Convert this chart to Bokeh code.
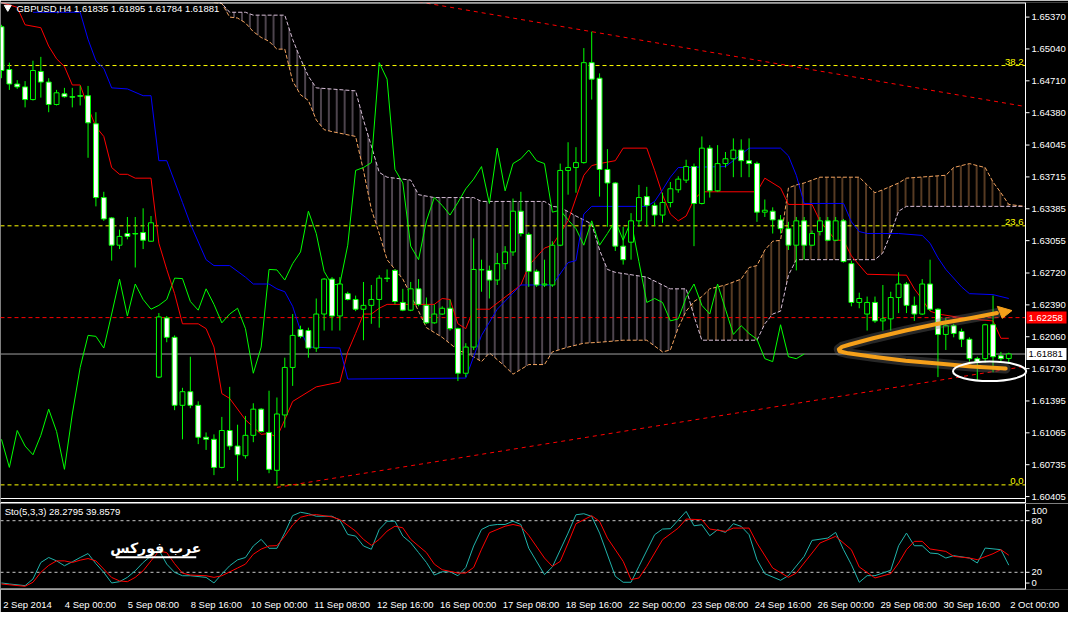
import numpy as np
from bokeh.plotting import figure
from bokeh.layouts import column
from bokeh.models import Range1d, FixedTicker, LinearAxis, ColumnDataSource
from bokeh.embed import file_html
from bokeh.resources import INLINE
from bokeh.core.properties import value

# ---------------- data ----------------
symbol, timeframe = "GBPUSD", "H4"

opens = [1.65270, 1.64827, 1.64677, 1.64647, 1.64516, 1.64807, 1.64697, 1.64465, 1.64576, 1.64546,
         1.64556, 1.64556, 1.64265, 1.63501, 1.63290, 1.63008, 1.63129, 1.63129, 1.63139, 1.63049,
         1.61642, 1.62255, 1.62054, 1.61350, 1.61491, 1.61350, 1.61019, 1.60998, 1.60707, 1.61089,
         1.60928, 1.60828, 1.61039, 1.61310, 1.61069, 1.60677, 1.61250, 1.61742, 1.62134, 1.62124,
         1.61943, 1.62295, 1.62657, 1.62275, 1.62506, 1.62446, 1.62345, 1.62385, 1.62446, 1.62667,
         1.62747, 1.62415, 1.62335, 1.62556, 1.62385, 1.62204, 1.62295, 1.62355, 1.62144, 1.61682,
         1.61953, 1.62757, 1.62747, 1.62647, 1.62817, 1.62938, 1.63360, 1.63119, 1.62737, 1.62596,
         1.62596, 1.63008, 1.63782, 1.63812, 1.63863, 1.64898, 1.64737, 1.63792, 1.63652, 1.62998,
         1.63039, 1.63260, 1.63511, 1.63420, 1.63320, 1.63450, 1.63582, 1.63682, 1.63822, 1.63440,
         1.64013, 1.63571, 1.63853, 1.63903, 1.63993, 1.63883, 1.63853, 1.63350, 1.63360, 1.63270,
         1.63179, 1.63008, 1.63260, 1.63008, 1.63149, 1.63260, 1.63059, 1.63260, 1.62817, 1.62415,
         1.62295, 1.62415, 1.62224, 1.62245, 1.62466, 1.62606, 1.62385, 1.62295, 1.62606, 1.62345,
         1.62084, 1.62174, 1.62114, 1.62034, 1.61833, 1.61833, 1.62184, 1.61863, 1.61835]
highs = [1.65290, 1.64898, 1.64717, 1.64707, 1.64918, 1.64958, 1.64737, 1.64616, 1.64637, 1.64637,
         1.64657, 1.64657, 1.64385, 1.63561, 1.63300, 1.63169, 1.63300, 1.63300, 1.63390, 1.63310,
         1.62305, 1.62275, 1.62074, 1.61531, 1.61853, 1.61391, 1.61069, 1.61049, 1.61230, 1.61541,
         1.61149, 1.61240, 1.61371, 1.61320, 1.61501, 1.61431, 1.61843, 1.62295, 1.62174, 1.62154,
         1.62456, 1.62667, 1.62677, 1.62677, 1.62526, 1.62486, 1.62627, 1.62596, 1.62697, 1.62757,
         1.62757, 1.62556, 1.62627, 1.62657, 1.62466, 1.62395, 1.62375, 1.62446, 1.62154, 1.61993,
         1.63079, 1.62858, 1.62797, 1.62928, 1.62998, 1.63491, 1.63561, 1.63139, 1.62757, 1.62858,
         1.63049, 1.63853, 1.64074, 1.64023, 1.65049, 1.65219, 1.64787, 1.64003, 1.63662, 1.63199,
         1.63340, 1.63632, 1.63612, 1.63450, 1.63551, 1.63662, 1.63722, 1.63893, 1.63853, 1.64134,
         1.64044, 1.64044, 1.63973, 1.64114, 1.64104, 1.64114, 1.63873, 1.63481, 1.63400, 1.63320,
         1.63250, 1.63300, 1.63300, 1.63159, 1.63300, 1.63300, 1.63300, 1.63280, 1.62848, 1.62516,
         1.62476, 1.62476, 1.62596, 1.62526, 1.62727, 1.62627, 1.62476, 1.62657, 1.62858, 1.62355,
         1.62255, 1.62194, 1.62144, 1.62054, 1.61853, 1.62194, 1.62486, 1.61903, 1.61895]
lows = [1.64737, 1.64616, 1.64626, 1.64435, 1.64506, 1.64536, 1.64385, 1.64455, 1.64536, 1.64435,
        1.64455, 1.63913, 1.63410, 1.63260, 1.62848, 1.62968, 1.63069, 1.62777, 1.62968, 1.63044,
        1.61632, 1.62003, 1.61300, 1.60998, 1.61320, 1.60948, 1.60888, 1.60627, 1.60697, 1.60888,
        1.60566, 1.60798, 1.60968, 1.61069, 1.60647, 1.60526, 1.61119, 1.61551, 1.62044, 1.61843,
        1.61903, 1.62124, 1.62124, 1.62124, 1.62436, 1.62325, 1.62024, 1.62194, 1.62154, 1.62627,
        1.62395, 1.62325, 1.62325, 1.62375, 1.62194, 1.62194, 1.62285, 1.62124, 1.61601, 1.61642,
        1.61923, 1.62526, 1.62456, 1.62596, 1.62757, 1.62898, 1.63099, 1.62576, 1.62576, 1.62576,
        1.62576, 1.62998, 1.63531, 1.63551, 1.63853, 1.64516, 1.63511, 1.63199, 1.62948, 1.62807,
        1.62858, 1.63199, 1.63199, 1.63209, 1.63240, 1.63400, 1.63551, 1.63652, 1.62998, 1.63430,
        1.63501, 1.63561, 1.63812, 1.63712, 1.63712, 1.63712, 1.63250, 1.63300, 1.63129, 1.63129,
        1.62958, 1.62747, 1.62858, 1.62998, 1.63109, 1.63049, 1.63049, 1.62828, 1.62375, 1.62355,
        1.62124, 1.62204, 1.62124, 1.62124, 1.62305, 1.62305, 1.62224, 1.62285, 1.62325, 1.61642,
        1.61923, 1.62054, 1.61953, 1.61802, 1.61601, 1.61792, 1.61692, 1.61802, 1.61784]
closes = [1.64817, 1.64677, 1.64647, 1.64516, 1.64817, 1.64697, 1.64465, 1.64586, 1.64546, 1.64541,
          1.64551, 1.64275, 1.63501, 1.63280, 1.63008, 1.63099, 1.63099, 1.63124, 1.63059, 1.63240,
          1.62265, 1.62054, 1.61350, 1.61491, 1.61350, 1.61019, 1.60998, 1.60707, 1.61089, 1.60928,
          1.60838, 1.61039, 1.61310, 1.61079, 1.60687, 1.61260, 1.61742, 1.62074, 1.62064, 1.61943,
          1.62295, 1.62657, 1.62275, 1.62606, 1.62446, 1.62345, 1.62385, 1.62446, 1.62667, 1.62662,
          1.62425, 1.62335, 1.62556, 1.62395, 1.62204, 1.62295, 1.62355, 1.62144, 1.61682, 1.61953,
          1.62757, 1.62752, 1.62647, 1.62817, 1.62938, 1.63360, 1.63129, 1.62737, 1.62596, 1.62606,
          1.63008, 1.63782, 1.63812, 1.63863, 1.64898, 1.64727, 1.63792, 1.63652, 1.62998, 1.62858,
          1.63260, 1.63501, 1.63420, 1.63320, 1.63450, 1.63592, 1.63692, 1.63822, 1.63440, 1.64013,
          1.63571, 1.63853, 1.63903, 1.63993, 1.63883, 1.63853, 1.63350, 1.63370, 1.63270, 1.63179,
          1.63008, 1.63260, 1.63008, 1.63129, 1.63260, 1.63059, 1.63260, 1.62838, 1.62415, 1.62456,
          1.62415, 1.62224, 1.62245, 1.62466, 1.62606, 1.62385, 1.62295, 1.62606, 1.62345, 1.62084,
          1.62174, 1.62094, 1.62034, 1.61833, 1.61802, 1.62184, 1.61853, 1.61833, 1.61881]

date_ticks = [0, 8, 16, 24, 32, 40, 48, 56, 64, 72, 80, 88, 96, 104, 112, 120, 128]
date_labels = ["2 Sep 2014", "4 Sep 00:00", "5 Sep 08:00", "8 Sep 16:00", "10 Sep 00:00",
               "11 Sep 08:00", "12 Sep 16:00", "16 Sep 00:00", "17 Sep 08:00", "18 Sep 16:00",
               "22 Sep 00:00", "23 Sep 08:00", "24 Sep 16:00", "26 Sep 00:00", "29 Sep 08:00",
               "30 Sep 16:00", "2 Oct 00:00"]
price_ticks = [1.65370, 1.65040, 1.64710, 1.64380, 1.64045, 1.63715, 1.63385, 1.63055,
               1.62720, 1.62390, 1.62060, 1.61730, 1.61395, 1.61065, 1.60735, 1.60405]

# Ichimoku (vertices)
tenkan_bar = [0, 2, 3, 5, 6, 7, 8, 9, 10, 11, 12, 13, 14, 15, 16, 17, 19, 20, 21, 22,
              23, 25, 26, 27, 28, 29, 31, 33, 34, 35, 36, 37, 40, 43, 44, 45, 46, 47, 48, 49,
              55, 56, 57, 58, 59, 60, 62, 66, 67, 69, 70, 72, 74, 75, 76, 78, 79, 82, 83, 84,
              85, 86, 87, 88, 89, 96, 97, 99, 100, 103, 104, 106, 107, 108, 110, 115, 116, 117, 118, 119,
              123, 126, 127, 128]
tenkan_val = [1.65521, 1.65471, 1.65290, 1.65260, 1.65069, 1.64938, 1.64858, 1.64667, 1.64667, 1.64435,
              1.64234, 1.64134, 1.63812, 1.63742, 1.63742, 1.63702, 1.63702, 1.63028, 1.62757, 1.62506,
              1.62194, 1.62194, 1.62144, 1.61953, 1.61471, 1.61421, 1.61200, 1.61049, 1.61059, 1.61019,
              1.61200, 1.61390, 1.61541, 1.61591, 1.61903, 1.62094, 1.62295, 1.62295, 1.62355, 1.62395,
              1.62395, 1.62456, 1.62446, 1.62194, 1.62144, 1.62345, 1.62345, 1.62596, 1.62797, 1.62978,
              1.63008, 1.63260, 1.63732, 1.63832, 1.63853, 1.63883, 1.64013, 1.64013, 1.63782, 1.63531,
              1.63330, 1.63260, 1.63310, 1.63481, 1.63561, 1.63561, 1.63702, 1.63601, 1.63430, 1.63430,
              1.63260, 1.63059, 1.63059, 1.62898, 1.62707, 1.62697, 1.62556, 1.62446, 1.62325, 1.62295,
              1.62245, 1.62224, 1.62044, 1.62044]
kijun_bar = [4, 10, 11, 12, 13, 14, 16, 18, 19, 20, 21, 23, 24, 26, 27, 29, 31, 32, 34, 35,
             36, 37, 38, 39, 43, 44, 59, 60, 61, 63, 66, 70, 72, 73, 74, 75, 82, 83, 84, 85,
             86, 92, 93, 95, 99, 100, 101, 102, 107, 108, 109, 110, 114, 117, 118, 119, 120, 122, 123, 126,
             128]
kijun_val = [1.65420, 1.65420, 1.65139, 1.64918, 1.64838, 1.64637, 1.64626, 1.64556, 1.64556, 1.63883,
             1.63883, 1.63450, 1.63229, 1.62858, 1.62797, 1.62797, 1.62677, 1.62606, 1.62606, 1.62556,
             1.62526, 1.62375, 1.62124, 1.61953, 1.61943, 1.61622, 1.61632, 1.61853, 1.62074, 1.62345,
             1.62596, 1.62596, 1.62828, 1.62848, 1.63330, 1.63410, 1.63410, 1.63461, 1.63582, 1.63712,
             1.63812, 1.63822, 1.63883, 1.64013, 1.64013, 1.63933, 1.63732, 1.63440, 1.63440, 1.63250,
             1.63149, 1.63129, 1.63129, 1.63109, 1.63028, 1.62878, 1.62757, 1.62576, 1.62506, 1.62496,
             1.62456]
spanA_bar = [27, 28, 29, 30, 31, 32, 33, 34, 35, 36, 37, 38, 39, 40, 41, 42, 45, 46, 47, 48,
             49, 51, 53, 54, 56, 58, 60, 61, 62, 64, 65, 67, 69, 70, 72, 74, 76, 79, 82, 84,
             85, 86, 87, 88, 89, 90, 92, 94, 95, 96, 97, 98, 99, 100, 101, 102, 104, 109, 110, 111,
             112, 114, 115, 120, 121, 123, 124, 125, 126, 127, 128, 130]
spanA_val = [1.65521, 1.65511, 1.65370, 1.65360, 1.65310, 1.65219, 1.65159, 1.65119, 1.65038, 1.65038,
             1.64707, 1.64566, 1.64506, 1.64305, 1.64204, 1.64184, 1.64134, 1.63782, 1.63380, 1.63129,
             1.62858, 1.62657, 1.62325, 1.62154, 1.62054, 1.61923, 1.61853, 1.61802, 1.61893, 1.61752,
             1.61672, 1.61772, 1.61772, 1.61903, 1.61953, 1.61993, 1.62003, 1.62024, 1.62024, 1.61903,
             1.61923, 1.62154, 1.62325, 1.62425, 1.62476, 1.62556, 1.62596, 1.62657, 1.62777, 1.62797,
             1.62958, 1.63049, 1.63059, 1.63601, 1.63632, 1.63652, 1.63712, 1.63712, 1.63632, 1.63551,
             1.63582, 1.63652, 1.63702, 1.63732, 1.63812, 1.63853, 1.63832, 1.63812, 1.63662, 1.63551,
             1.63430, 1.63410]
spanB_bar = [27, 28, 29, 31, 32, 36, 37, 38, 39, 40, 45, 46, 47, 48, 49, 52, 53, 55, 60, 61,
             69, 70, 71, 73, 75, 76, 77, 78, 82, 85, 87, 88, 89, 96, 97, 98, 99, 100, 101, 111,
             112, 113, 114, 115, 130]
spanB_val = [1.65571, 1.65511, 1.65420, 1.65420, 1.65390, 1.65390, 1.65139, 1.64938, 1.64757, 1.64637,
             1.64606, 1.64305, 1.64034, 1.63762, 1.63712, 1.63682, 1.63531, 1.63501, 1.63501, 1.63461,
             1.63461, 1.63410, 1.63400, 1.63310, 1.63229, 1.62958, 1.62757, 1.62727, 1.62677, 1.62556,
             1.62556, 1.62275, 1.62024, 1.62024, 1.62194, 1.62295, 1.62325, 1.62697, 1.62858, 1.62858,
             1.62928, 1.63129, 1.63360, 1.63410, 1.63410]
kumo_twist = (87.61, 1.62386)
chikou_shift = 26

# Fibonacci retracement (high 100%, low 0%) and levels shown
fib_high, fib_low = 1.71893, 1.60526
fib_levels = [0.0, 23.6, 38.2]
level_line = 1.62258
trend_upper = ([75, 130], [1.65219, 1.64445])
trend_lower = ([35, 130], [1.60500, 1.61752])

# Stochastic (5,3,3)
k_bar = [0, 1, 3, 4, 5, 6, 7, 8, 9, 10, 11, 12, 13, 14, 15, 16, 17, 18, 19, 20,
         21, 22, 23, 24, 26, 27, 28, 29, 30, 31, 32, 33, 34, 35, 36, 37, 38, 39, 40, 42,
         43, 44, 45, 46, 47, 48, 49, 50, 51, 52, 53, 54, 55, 56, 57, 58, 59, 60, 61, 62,
         63, 64, 65, 66, 67, 69, 70, 72, 73, 74, 75, 76, 78, 79, 80, 81, 83, 84, 85, 87,
         88, 89, 90, 91, 92, 93, 94, 95, 96, 97, 99, 100, 102, 103, 105, 106, 107, 108, 109, 110,
         111, 113, 114, 115, 116, 117, 118, 119, 120, 121, 123, 124, 125, 127, 128]
k_val = [7.6, 6.4, 4.5, 12.2, 31.4, 37.2, 33.3, 27.6, 32.2, 37.2, 41.8, 30, 19.9, 7.6, 9.1, 14.1, 21.8, 31.4, 39.1, 46,
         29.5, 19.9, 16, 16, 14.1, 7.6, 18, 27.6, 34.5, 37.2, 50.6, 58.3, 47.9, 47.9, 66, 85.9, 89.8, 88.2, 85.2, 85.2,
         80.6, 64, 62.1, 50.6, 46.8, 69.8, 79.4, 79.4, 62.1, 54.4, 42.9, 31.4, 16.8, 20.6, 20.6, 16, 25.6, 50.6, 69.8, 74.4,
         75.6, 75.6, 79.4, 75.6, 48, 17.3, 26.2, 65.6, 86.9, 88.1, 85, 65.6, 15.3, 8.4, 8.4, 26.9, 63.7, 70.3, 70.7, 90.8,
         74.1, 75.3, 62.5, 69.5, 66.4, 76.5, 73.4, 63.7, 34.7, 18.4, 10.7, 16.1, 38.5, 57.1, 59.8, 66.4, 46.3, 28.9, 8.4, 16.1,
         16.1, 22.3, 50.9, 65.6, 50.9, 50.9, 42.4, 41.6, 36.6, 39.3, 36.6, 30.8, 48.2, 46.3, 28.2795]
d_bar = [0, 3, 4, 5, 6, 7, 8, 9, 10, 11, 12, 13, 14, 15, 16, 17, 18, 19, 20, 21,
         22, 23, 24, 26, 27, 28, 30, 31, 32, 33, 34, 35, 36, 37, 38, 39, 40, 42, 43, 45,
         46, 47, 48, 49, 50, 51, 52, 54, 55, 56, 58, 59, 60, 61, 62, 64, 65, 66, 67, 69,
         70, 71, 72, 73, 75, 76, 77, 79, 80, 81, 82, 84, 86, 87, 89, 90, 92, 93, 95, 96,
         98, 100, 101, 103, 104, 106, 108, 109, 111, 113, 114, 115, 116, 117, 118, 120, 121, 123, 124, 126,
         127, 128]
d_val = [6.4, 3.7, 8.4, 20, 28, 33.3, 33.3, 31.4, 34.1, 36, 33.3, 23.7, 14, 10, 9.1, 14.1, 21.8, 33.3, 44.8, 42.9,
         30, 19, 16.8, 16, 14.1, 16, 25, 29.5, 41, 47, 50.6, 51, 62, 75, 84, 86.3, 87.1, 84.4, 81.3, 67.9,
         58.3, 51.4, 58.3, 67.9, 73.6, 71.7, 58.3, 42.9, 29.5, 23, 19.1, 19.1, 25.6, 46.8, 66, 73.6, 75.6, 73.6, 63, 36.6,
         26.9, 32.7, 54, 76.5, 85.8, 79.2, 59.8, 32.7, 11.5, 13.4, 26.9, 57.9, 71.4, 81.9, 81.1, 70.3, 67.6, 71.4, 71.4, 54,
         25, 14.2, 19.2, 42.4, 54, 61.8, 46.3, 26.2, 13.4, 18.4, 30.8, 46.3, 56, 56, 47.1, 44.3, 38.5, 36.6, 34.7, 41.6,
         46.3, 39.8579]
sto_levels = [20, 80]
sto_axis_ticks = [91.6, 80, 20, 7.5]          # where the scale labels sit in the panel
sto_axis_labels = ["100", "80", "20", "0"]

# hand-drawn annotations on the chart
arrow_bar = [127.6, 123.25, 119.0, 114.9, 110.75, 107.6, 106.5, 106.4, 106.8, 107.8, 110.75, 114.9, 119.0, 123.25, 126.5]
arrow_px = [1.61732, 1.61752, 1.61782, 1.61812, 1.61853, 1.61888, 1.61910, 1.61930, 1.61955, 1.61980,
            1.62044, 1.62124, 1.62194, 1.62255, 1.62305]
arrow_head_bar = [126.54, 127.17, 128.41]
arrow_head_px = [1.62375, 1.62251, 1.62331]
circle_center = (125.56, 1.61702)
circle_size = (9.3, 0.00201)
arabic_caption = "عرب فوركس"

# ---------------- layout constants ----------------
FONT = "Liberation Sans"
FS = "9.5px"
BG = "black"
X0, X1 = -0.125, 130.125          # bar range of the price area
FW_PLOT, AXW = 1025, 43            # px of price area / price-scale column
XR = X1 + AXW * (X1 - X0) / FW_PLOT
PXB = (X1 - X0) / FW_PLOT          # bars per pixel
Y_TOP, Y_BOT = 1.65521, 1.60385
MAIN_H = 496
PPP = (Y_TOP - Y_BOT) / MAIN_H     # price per pixel
Y_EXT = Y_BOT - 5 * PPP


def base_fig(fh, xr, yr, **kw):
    f = figure(frame_width=FW_PLOT + AXW, frame_height=fh, x_range=xr, y_range=yr,
               x_axis_location=None, y_axis_location=None, toolbar_location=None,
               output_backend="svg", min_border=0, background_fill_color=BG,
               border_fill_color=BG, outline_line_color=None, **kw)
    f.grid.visible = False
    return f


def price_scale(f, ticks, labels, y0, y1):
    n = len(ticks)
    f.segment(x0=[X1], y0=[y0], x1=[X1], y1=[y1], line_color="white", line_width=1)
    f.segment(x0=[X1] * n, y0=ticks, x1=[X1 + 4 * PXB] * n, y1=ticks, line_color="white", line_width=1)
    f.text(x=[X1 + 6 * PXB] * n, y=ticks, text=labels, text_color="white",
           text_font=value(FONT), text_font_size=FS, text_baseline="middle")


main = base_fig(MAIN_H + 5, Range1d(X0, XR), Range1d(Y_EXT, Y_TOP), min_border_top=2)

# Kumo hatching (vertical strokes between the two spans)
tb, tp = kumo_twist
left_x = [b for b in spanA_bar if b < tb] + [tb] + [b for b in reversed(spanB_bar) if b < tb]
left_y = ([v for b, v in zip(spanA_bar, spanA_val) if b < tb] + [tp] +
          [v for b, v in zip(reversed(spanB_bar), reversed(spanB_val)) if b < tb])
right_x = [tb] + [b for b in spanA_bar if b > tb] + [b for b in reversed(spanB_bar) if b > tb]
right_y = ([tp] + [v for b, v in zip(spanA_bar, spanA_val) if b > tb] +
           [v for b, v in zip(reversed(spanB_bar), reversed(spanB_val)) if b > tb])
main.patch(left_x, left_y, fill_color=None, line_color=None, hatch_pattern="|",
           hatch_color="#D8BFD8", hatch_alpha=0.7, hatch_scale=7.9, hatch_weight=1)
main.patch(right_x, right_y, fill_color=None, line_color=None, hatch_pattern="|",
           hatch_color="#F4A460", hatch_alpha=0.7, hatch_scale=7.9, hatch_weight=1)
main.line(spanA_bar, spanA_val, line_color="#F4A460", line_dash="4 2", line_width=1)
main.line(spanB_bar, spanB_val, line_color="#D8BFD8", line_dash="4 2", line_width=1)

# Fibonacci levels
for lv in fib_levels:
    price = fib_low + (fib_high - fib_low) * lv / 100.0
    main.segment(x0=[X0], y0=[price], x1=[X1], y1=[price], line_color="yellow",
                 line_dash="4 3", line_width=1)
    main.text(x=[X1 - 2 * PXB], y=[price], text=["%.1f" % lv], text_color="yellow",
              text_font=value(FONT), text_font_size=FS, text_align="right",
              text_baseline="bottom", y_offset=-1)

main.segment(x0=[X0], y0=[level_line], x1=[X1], y1=[level_line], line_color="red",
             line_dash="4 3", line_width=1)
main.segment(x0=[X0], y0=[closes[-1]], x1=[X1], y1=[closes[-1]], line_color="#a0a0a0", line_width=1)

# trend lines
ux, uy = trend_upper
slope_u = (uy[1] - uy[0]) / (ux[1] - ux[0])
main.line([50, X1], [uy[0] + slope_u * (50 - ux[0]), uy[0] + slope_u * (X1 - ux[0])],
          line_color="red", line_dash="4 4", line_width=1)
lx, ly = trend_lower
slope_l = (ly[1] - ly[0]) / (lx[1] - lx[0])
main.line([lx[0], X1], [ly[0], ly[0] + slope_l * (X1 - lx[0])],
          line_color="red", line_dash="4 4", line_width=1)

# Chikou (close shifted back 26 bars), Tenkan, Kijun
bars = np.arange(len(closes))
main.line(bars[chikou_shift:] - chikou_shift, closes[chikou_shift:], line_color="lime", line_width=1)
main.line(tenkan_bar, tenkan_val, line_color="red", line_width=1)
main.line(kijun_bar, kijun_val, line_color="blue", line_width=1)

# candles
o = np.array(opens)
c = np.array(closes)
src = ColumnDataSource(dict(x=bars, top=np.maximum(o, c), bottom=np.minimum(o, c),
                            high=highs, low=lows,
                            fill=["black" if cc >= oo else "white" for oo, cc in zip(opens, closes)]))
main.segment(x0="x", y0="low", x1="x", y1="high", source=src, line_color="lime", line_width=1)
main.vbar(x="x", top="top", bottom="bottom", width=0.62, fill_color="fill",
          line_color="lime", line_width=1, source=src)

# annotations: arrow and ellipse
main.line(arrow_bar, arrow_px, line_color="#707070", line_alpha=0.35, line_width=10,
          line_cap="round", line_join="round")
main.line(arrow_bar, arrow_px, line_color="#F5A01A", line_width=4, line_cap="round", line_join="round")
main.patch(arrow_head_bar, arrow_head_px, fill_color="#F5A01A", line_color="#F5A01A", line_width=1)
main.ellipse(x=[circle_center[0]], y=[circle_center[1]], width=[circle_size[0]],
             height=[circle_size[1]], fill_color=None, line_color="white", line_width=2)

# panel borders (top line, double separator line)
main.segment(x0=[X0] * 3, y0=[Y_TOP, Y_BOT, Y_BOT - 4 * PPP], x1=[X1] * 3,
             y1=[Y_TOP, Y_BOT, Y_BOT - 4 * PPP], line_color="white", line_width=[2, 1, 1])

# title
main.scatter(x=[0.8], y=[1.65471], marker="inverted_triangle", size=7, color="white")
title = "%s,%s  %.5f %.5f %.5f %.5f" % (symbol, timeframe, opens[-1], highs[-1], lows[-1], closes[-1])
main.text(x=[1.9], y=[1.65461], text=[title], text_color="white", text_font=value(FONT),
          text_font_size=FS, text_baseline="middle")

# price scale and the price boxes on it
price_scale(main, price_ticks, ["%.5f" % t for t in price_ticks], Y_EXT, Y_TOP)
main.rect(x=[X1 + 21 * PXB] * 2, y=[level_line, closes[-1]], width=40, height=12,
          width_units="screen", height_units="screen", fill_color=["red", "white"], line_color=None)
main.text(x=[X1 + 3 * PXB] * 2, y=[level_line, closes[-1]],
          text=["%.5f" % level_line, "%.5f" % closes[-1]], text_color=["white", "black"],
          text_font=value(FONT), text_font_size=FS, text_baseline="middle")

# ---------------- stochastic panel ----------------
sto = base_fig(86, main.x_range, Range1d(0, 100))
off = 3.3
sto.extra_x_ranges = {"dates": Range1d(X0 - off, XR - off)}
dax = LinearAxis(x_range_name="dates", ticker=FixedTicker(ticks=date_ticks),
                 major_label_overrides={t: l for t, l in zip(date_ticks, date_labels)})
dax.axis_line_color = None
dax.major_tick_line_color = None
dax.minor_tick_line_color = None
dax.major_label_standoff = 3
dax.major_label_text_color = "white"
dax.major_label_text_font = FONT
dax.major_label_text_font_size = FS
sto.add_layout(dax, "below")

for lv in sto_levels:
    sto.segment(x0=[X0], y0=[lv], x1=[X1], y1=[lv], line_color="#c8c8c8",
                line_dash="3 3", line_width=1)
sto.line(k_bar, k_val, line_color="#20B2AA", line_width=1)
sto.line(d_bar, d_val, line_color="red", line_width=1)
sto.segment(x0=[X0], y0=[0], x1=[X1], y1=[0], line_color="white", line_width=2)

sto.text(x=[0.4], y=[90.5], text=["Sto(5,3,3) %.4f %.4f" % (k_val[-1], d_val[-1])],
         text_color="white", text_font=value(FONT), text_font_size=FS, text_baseline="middle")
sto.text(x=[19.6], y=[48], text=[arabic_caption], text_color="white",
         text_font=value("DejaVu Sans"), text_font_style="bold", text_font_size="14px",
         text_align="center", text_baseline="middle")
sto.segment(x0=[14.5], y0=[37.5], x1=[24.75], y1=[37.5], line_color="white", line_width=2)
price_scale(sto, sto_axis_ticks, sto_axis_labels, 0, 100)

layout = column(main, sto, spacing=0)
open("out.html", "w").write(file_html(layout, INLINE))
